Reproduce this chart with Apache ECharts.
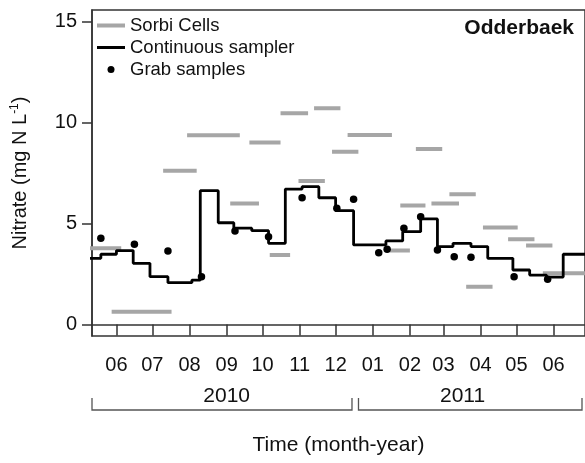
<!DOCTYPE html>
<html>
<head>
<meta charset="utf-8">
<script src="https://cdn.jsdelivr.net/npm/echarts@6/dist/echarts.min.js"></script>
<style>
  html, body { margin: 0; padding: 0; background: #ffffff; }
  #chart { width: 585px; height: 463px; }
</style>
</head>
<body>
<div id="chart"></div>
<script>
// Month ticks (mid-month) and their labels
const monthTicks = ['2010-06-15', '2010-07-15', '2010-08-15', '2010-09-15', '2010-10-15', '2010-11-15',
  '2010-12-15', '2011-01-15', '2011-02-15', '2011-03-15', '2011-04-15', '2011-05-15', '2011-06-15'];
const monthLabels = ['06', '07', '08', '09', '10', '11', '12', '01', '02', '03', '04', '05', '06'];
const yearLabels = ['2010', '2011'];
const yTicks = [0, 5, 10, 15];

// Continuous sampler: date each level starts, nitrate level (mg N/L)
const contDates = ['2010-05-20', '2010-06-02', '2010-06-15', '2010-06-29', '2010-07-13', '2010-07-28',
  '2010-08-17', '2010-08-24', '2010-09-08', '2010-09-21', '2010-10-06', '2010-10-20', '2010-11-03',
  '2010-11-17', '2010-12-01', '2010-12-15', '2010-12-30', '2011-01-26', '2011-02-09', '2011-02-24',
  '2011-03-10', '2011-03-23', '2011-04-07', '2011-04-21', '2011-05-12', '2011-05-26', '2011-06-09',
  '2011-06-23', '2011-07-15'];
const contValues = [3.28, 3.48, 3.66, 3.03, 2.37, 2.07, 2.2, 6.63, 5.04, 4.77, 4.65, 4.02, 6.71,
  6.83, 6.28, 5.64, 3.94, 4.14, 4.6, 5.23, 3.86, 4.02, 3.86, 3.28, 2.7, 2.45, 2.35, 3.48, 3.48];

// Grab samples
const grabDates = ['2010-06-02', '2010-06-30', '2010-07-28', '2010-08-25', '2010-09-22', '2010-10-20',
  '2010-11-17', '2010-12-16', '2010-12-30', '2011-01-20', '2011-01-27', '2011-02-10', '2011-02-24',
  '2011-03-10', '2011-03-24', '2011-04-07', '2011-05-13', '2011-06-10'];
const grabValues = [4.27, 3.97, 3.64, 2.37, 4.63, 4.35, 6.28, 5.76, 6.2, 3.56, 3.73, 4.77, 5.34,
  3.69, 3.36, 3.33, 2.37, 2.24];

// Sorbi cells: deployment start, end, time-averaged nitrate
const sorbiStart = ['2010-05-20', '2010-06-11', '2010-07-24', '2010-08-13', '2010-09-18', '2010-10-04',
  '2010-10-21', '2010-10-30', '2010-11-14', '2010-11-27', '2010-12-12', '2010-12-25', '2011-01-29',
  '2011-02-07', '2011-02-20', '2011-03-05', '2011-03-20', '2011-04-03', '2011-04-17', '2011-05-08',
  '2011-05-23', '2011-06-06'];
const sorbiEnd = ['2010-06-19', '2010-07-31', '2010-08-21', '2010-09-26', '2010-10-12', '2010-10-30',
  '2010-11-07', '2010-11-22', '2010-12-06', '2010-12-19', '2011-01-03', '2011-01-31', '2011-02-15',
  '2011-02-28', '2011-03-14', '2011-03-28', '2011-04-11', '2011-04-25', '2011-05-16', '2011-05-30',
  '2011-06-14', '2011-07-15'];
const sorbiValues = [3.78, 0.63, 7.62, 9.37, 6.0, 9.01, 3.44, 10.47, 7.11, 10.71, 8.56, 9.39, 3.66,
  5.89, 8.7, 6.0, 6.45, 1.87, 4.8, 4.22, 3.91, 2.54];

const DAY = 86400000;
function ts(s) {
  const p = s.split('-').map(Number);
  return Date.UTC(p[0], p[1] - 1, p[2]);
}

const tickTs = monthTicks.map(ts);
const xMin = tickTs[0] - 20.4 * DAY;
const xMax = tickTs[0] + 391.2 * DAY;
const yMin = -0.57;
const yMax = 15.58;

const contData = contDates.map((d, i) => [ts(d), contValues[i]]);
const grabData = grabDates.map((d, i) => [ts(d), grabValues[i]]);
const sorbiData = [];
sorbiValues.forEach((v, i) => {
  sorbiData.push([ts(sorbiStart[i]), v]);
  sorbiData.push([ts(sorbiEnd[i]), v]);
  sorbiData.push([ts(sorbiEnd[i]), null]);
});

const FONT = 'Liberation Sans, Arial, Helvetica, sans-serif';
const AXIS_COLOR = '#333333';
const TEXT_COLOR = '#111111';
const GREY = '#a6a6a6';

const chart = echarts.init(document.getElementById('chart'), null, { renderer: 'canvas' });

chart.setOption({
  animation: false,
  backgroundColor: '#ffffff',
  textStyle: { fontFamily: FONT },
  title: {
    text: 'Odderbaek',
    right: 6,
    top: 13,
    textStyle: { fontSize: 21, fontWeight: 'bold', color: TEXT_COLOR, fontFamily: FONT }
  },
  legend: {
    orient: 'vertical',
    left: 92,
    top: 11,
    itemWidth: 28,
    itemHeight: 7,
    itemGap: 3,
    selectedMode: false,
    textStyle: { fontSize: 18.5, color: TEXT_COLOR, fontFamily: FONT },
    data: [
      { name: 'Sorbi Cells', icon: 'path://M0,0L0.01,0L0,0.01ZM28,7L27.99,7L28,6.99ZM0,1.5H28V5.5H0Z' },
      { name: 'Continuous sampler', icon: 'path://M0,0L0.01,0L0,0.01ZM28,7L27.99,7L28,6.99ZM0,2H28V5H0Z' },
      { name: 'Grab samples', icon: 'circle', itemStyle: { color: '#000000', opacity: 1 } }
    ]
  },
  grid: {
    show: true,
    left: 92,
    top: 10,
    right: -5,
    bottom: 127,
    borderColor: AXIS_COLOR,
    borderWidth: 1.5,
    backgroundColor: 'transparent'
  },
  xAxis: {
    type: 'value',
    min: xMin,
    max: xMax,
    axisLine: { show: true, lineStyle: { color: AXIS_COLOR, width: 1.5 } },
    axisTick: { show: true, customValues: tickTs, length: 11, lineStyle: { color: AXIS_COLOR, width: 1.5 } },
    axisLabel: {
      customValues: tickTs,
      margin: 19,
      fontSize: 20,
      color: TEXT_COLOR,
      fontFamily: FONT,
      formatter: function (v) {
        const idx = tickTs.indexOf(v);
        if (idx >= 0) return monthLabels[idx];
        const m = new Date(v).getUTCMonth() + 1;
        return (m < 10 ? '0' : '') + m;
      }
    },
    splitLine: { show: false },
    name: 'Time (month-year)',
    nameLocation: 'middle',
    nameGap: 99,
    nameTextStyle: { fontSize: 21, color: TEXT_COLOR, fontFamily: FONT }
  },
  yAxis: {
    type: 'value',
    min: yMin,
    max: yMax,
    axisLine: { show: true, lineStyle: { color: AXIS_COLOR, width: 1.5 } },
    axisTick: { show: true, customValues: yTicks, length: 10, lineStyle: { color: AXIS_COLOR, width: 1.5 } },
    axisLabel: { customValues: yTicks, margin: 15, fontSize: 20, color: TEXT_COLOR, fontFamily: FONT },
    splitLine: { show: false },
    name: 'Nitrate (mg N L{sup|-1})',
    nameLocation: 'middle',
    nameRotate: 90,
    nameGap: 61,
    nameTextStyle: {
      fontSize: 20,
      color: TEXT_COLOR,
      fontFamily: FONT,
      rich: {
        sup: { fontSize: 12, color: TEXT_COLOR, fontFamily: FONT, verticalAlign: 'top', lineHeight: 22 }
      }
    }
  },
  series: [
    {
      name: 'Sorbi Cells',
      type: 'line',
      data: sorbiData,
      symbol: 'none',
      connectNulls: false,
      clip: true,
      color: GREY,
      lineStyle: { color: GREY, width: 4, cap: 'butt' },
      z: 2
    },
    {
      name: 'Continuous sampler',
      type: 'line',
      data: contData,
      step: 'end',
      symbol: 'none',
      clip: true,
      color: '#000000',
      lineStyle: { color: '#000000', width: 2.8 },
      z: 3
    },
    {
      name: 'Grab samples',
      type: 'scatter',
      data: grabData,
      symbol: 'circle',
      symbolSize: 7.5,
      color: '#000000',
      itemStyle: { color: '#000000', opacity: 1 },
      z: 4
    }
  ]
});

// Year brackets under the month labels
const px = (t) => chart.convertToPixel({ xAxisIndex: 0 }, t);
const leftX = px(xMin);
const yearBreak = px(Date.UTC(2011, 0, 1));
const bracketTop = 398;
const bracketBottom = 410;
const rightEnd = 582;
const yearCenters = [px(Date.UTC(2010, 8, 15)), px(Date.UTC(2011, 2, 31))];

chart.setOption({
  graphic: [
    {
      type: 'polyline',
      silent: true,
      shape: { points: [[leftX, bracketTop], [leftX, bracketBottom], [yearBreak - 4, bracketBottom], [yearBreak - 4, bracketTop]] },
      style: { stroke: '#555555', lineWidth: 1.3, fill: null }
    },
    {
      type: 'polyline',
      silent: true,
      shape: { points: [[yearBreak + 2.5, bracketTop], [yearBreak + 2.5, bracketBottom], [rightEnd, bracketBottom], [rightEnd, bracketTop]] },
      style: { stroke: '#555555', lineWidth: 1.3, fill: null }
    },
    {
      type: 'text',
      silent: true,
      x: yearCenters[0],
      y: 396,
      style: { text: yearLabels[0], fontSize: 21, fontFamily: FONT, fill: TEXT_COLOR, align: 'center', verticalAlign: 'middle' }
    },
    {
      type: 'text',
      silent: true,
      x: yearCenters[1],
      y: 396,
      style: { text: yearLabels[1], fontSize: 21, fontFamily: FONT, fill: TEXT_COLOR, align: 'center', verticalAlign: 'middle' }
    }
  ]
});
</script>
</body>
</html>
